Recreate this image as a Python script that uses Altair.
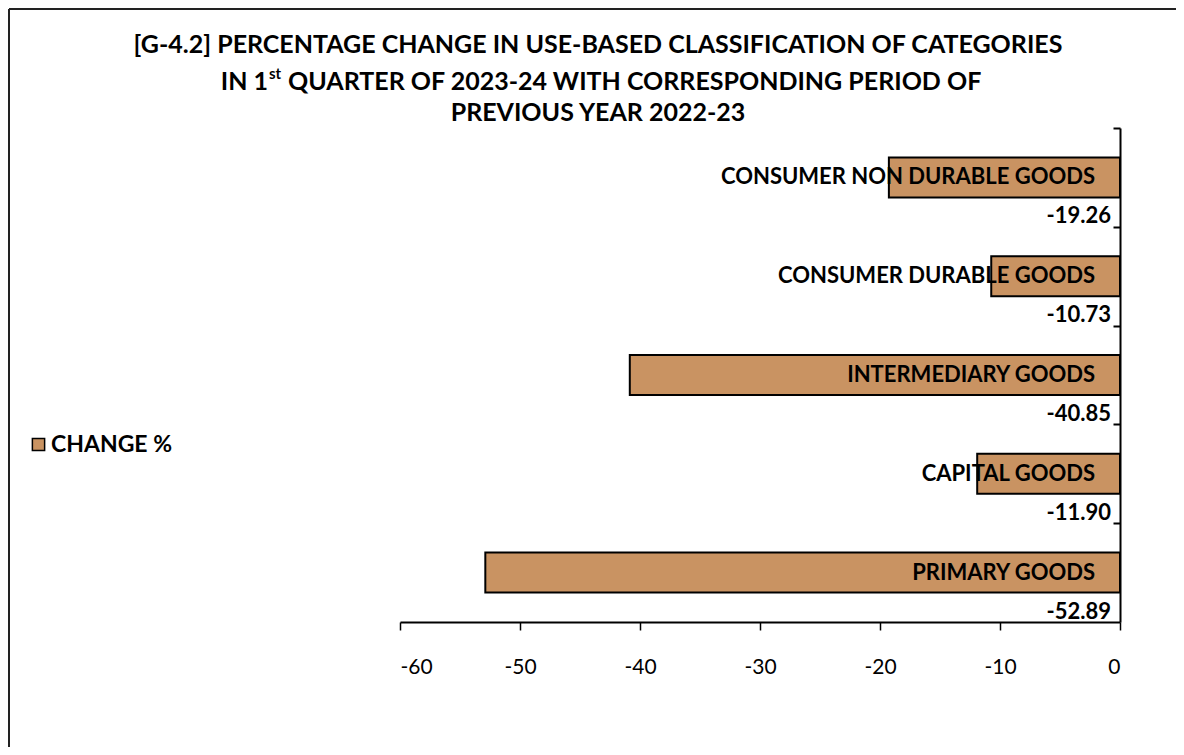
import altair as alt
import pandas as pd

# ---- data ----
categories = ["CONSUMER NON DURABLE GOODS", "CONSUMER DURABLE GOODS",
              "INTERMEDIARY GOODS", "CAPITAL GOODS", "PRIMARY GOODS"]
changes = [-19.26, -10.73, -40.85, -11.90, -52.89]
value_labels = ["-19.26", "-10.73", "-40.85", "-11.90", "-52.89"]
series_name = "CHANGE %"
x_ticks = [-60, -50, -40, -30, -20, -10, 0]
title_line1 = ["[G-4.2] PERCENTAGE CHANGE IN USE-BASED CLASSIFICATION OF CATEGORIES"]
title_line2a = ["IN  1"]
title_line2sup = ["st"]
title_line2b = ["QUARTER OF 2023-24 WITH CORRESPONDING PERIOD OF"]
title_line3 = ["PREVIOUS YEAR 2022-23"]

df = pd.DataFrame({"category": categories, "change": changes,
                   "label": value_labels, "series": [series_name] * len(categories)})

W, H = 720, 494
PAD_L, PAD_T = 392, 120
TOTAL_W, TOTAL_H = 1168, 739
FONT = "Lato"
BROWN = "#C99362"

y_enc = alt.Y("category:N", sort=categories,
              scale=alt.Scale(paddingInner=0.595, paddingOuter=0.2975),
              axis=alt.Axis(orient="left", offset=-W, labels=False, title=None,
                            domainColor="black", domainWidth=2,
                            tickColor="black", tickWidth=2, tickSize=7,
                            bandPosition=0, tickOffset=-29.4))

x_enc = alt.X("change:Q", scale=alt.Scale(domain=[-60, 0], nice=False),
              axis=alt.Axis(values=x_ticks, title=None, grid=False,
                            domainColor="black", domainWidth=2,
                            tickColor="black", tickWidth=1.5, tickSize=8,
                            labelExpr="'' + datum.value",
                            labelFont=FONT, labelFontSize=21, labelColor="black",
                            labelPadding=26))

base = alt.Chart(df)

bars = base.mark_bar(stroke="black", strokeWidth=2).encode(
    x=x_enc, y=y_enc,
    color=alt.Color("series:N", scale=alt.Scale(range=[BROWN]),
                    legend=alt.Legend(title=None, orient="none", legendX=-373, legendY=305,
                                      symbolType="square", symbolSize=150,
                                      symbolStrokeColor="black", symbolStrokeWidth=1.5,
                                      labelFont=FONT, labelFontSize=23, labelFontWeight="bold",
                                      labelColor="black", labelOffset=1))
)

cat_text = base.mark_text(align="right", baseline="middle", dx=-25, font=FONT,
                          fontSize=22, fontWeight="bold", color="black").encode(
    x=alt.datum(0), y=alt.Y("category:N", sort=categories), text="category:N")

val_text = base.mark_text(align="right", baseline="middle", dx=-9, dy=39, font=FONT,
                          fontSize=22, fontWeight="bold", color="black").encode(
    x=alt.datum(0), y=alt.Y("category:N", sort=categories), text="label:N")


def txt(lines, x, y, align="center", size=25):
    return alt.Chart(pd.DataFrame({"t": lines})).mark_text(
        align=align, baseline="middle", font=FONT, fontSize=size, fontWeight="bold",
        color="black").encode(x=alt.value(x), y=alt.value(y), text="t:N")


t1 = txt(title_line1, 198, -83)
t2a = txt(title_line2a, -132, -46, align="right")
t2s = txt(title_line2sup, -131, -54, align="left", size=15)
t2b = txt(title_line2b, -112, -46, align="left")
t3 = txt(title_line3, 198, -15)

border_top = alt.Chart(pd.DataFrame({"a": [0]})).mark_rule(color="#222", strokeWidth=2).encode(
    x=alt.value(-PAD_L + 1), x2=alt.value(TOTAL_W - PAD_L), y=alt.value(-PAD_T + 1))
border_left = alt.Chart(pd.DataFrame({"a": [0]})).mark_rule(color="#222", strokeWidth=2).encode(
    x=alt.value(-PAD_L + 1), y=alt.value(-PAD_T + 1), y2=alt.value(TOTAL_H - PAD_T))

chart = alt.layer(border_top, border_left, bars, cat_text, val_text, t1, t2a, t2s, t2b, t3).properties(
    width=W, height=H, background="white",
    padding={"left": PAD_L, "top": PAD_T, "right": TOTAL_W - PAD_L - W, "bottom": TOTAL_H - PAD_T - H},
    autosize=alt.AutoSizeParams(type="none")
).configure_view(stroke=None)

chart.save("out.html", embed_options={"renderer": "svg", "actions": False})
